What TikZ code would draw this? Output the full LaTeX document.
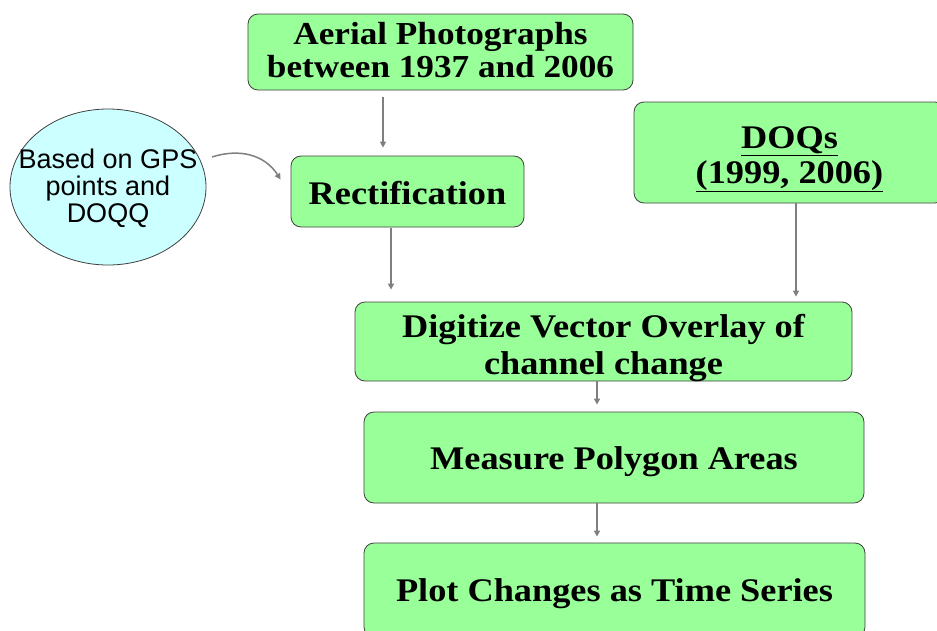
\documentclass[tikz,border=0pt]{standalone}
\usepackage{fontspec}
\setmainfont{Liberation Serif}
\newfontfamily\boxfont[FakeStretch=1.1]{Liberation Serif}
\newfontfamily\ellfont{Liberation Sans}
\usetikzlibrary{shapes.geometric,arrows.meta}
\definecolor{boxgreen}{HTML}{99FF99}
\definecolor{ellcyan}{HTML}{CCFFFF}
\definecolor{arrgray}{HTML}{7F7F7F}
\newcommand{\lowerby}[2]{\raisebox{-#1}[\height][\depth]{#2}}
\tikzset{
  greenbox/.style={draw=black!75, line width=0.8pt, fill=boxgreen, rounded corners=10pt,
    align=center, inner sep=0pt, font=\boxfont\bfseries\fontsize{33}{35}\selectfont},
  ellnode/.style={ellipse, draw=black!75, line width=0.8pt, fill=ellcyan, inner sep=0pt,
    align=center, font=\ellfont\fontsize{27}{27}\selectfont},
  arr/.style={draw=arrgray, line width=1.5pt, -{Triangle[width=6pt,length=6pt]}}
}
\begin{document}
\begin{tikzpicture}[x=1pt,y=-1pt]
\useasboundingbox (0,0) rectangle (937,630);
\node[greenbox, minimum width=385pt, minimum height=76pt, font=\boxfont\bfseries\fontsize{32}{33}\selectfont] (aerial) at (440.5,52)
  {\lowerby{2pt}{\begin{tabular}{@{}c@{}}Aerial Photographs\\between 1937 and 2006\end{tabular}}};
\node[greenbox, minimum width=233pt, minimum height=71pt] (rect) at (407.5,191.5) {\lowerby{2pt}{Rectification}};
\node[greenbox, minimum width=311pt, minimum height=101pt] (doqs) at (789.5,152.5)
  {\lowerby{6pt}{\begin{tabular}{@{}c@{}}\underline{DOQs}\\\underline{(1999, 2006)}\end{tabular}}};
\node[greenbox, minimum width=497pt, minimum height=79pt] (digit) at (603.5,341.5)
  {\lowerby{7pt}{\begin{tabular}{@{}c@{}}Digitize Vector Overlay of\\[2pt]channel change\end{tabular}}};
\node[greenbox, minimum width=500pt, minimum height=91pt] (measure) at (614,457.5) {\lowerby{4pt}{Measure Polygon Areas}};
\node[greenbox, minimum width=501pt, minimum height=94pt] (plot) at (614.5,590) {\lowerby{4pt}{Plot Changes as Time Series}};
\node[ellnode, minimum width=196pt, minimum height=156pt, text height=0pt, text depth=0pt] (ell) at (108,187)
  {\makebox[0pt][c]{\raisebox{-9pt}{\begin{tabular}{@{}c@{}}Based on GPS\\points and\\DOQQ\end{tabular}}}};
\coordinate (ellout) at (212,157);
\draw[arr, shorten <=7pt, shorten >=8pt] ([xshift=-57.5pt]aerial.south) -- ([xshift=-57.5pt]aerial.south |- rect.north);
\draw[arr, shorten <=1pt, shorten >=12pt] ([xshift=-16.5pt]rect.south) -- ([xshift=-16.5pt]rect.south |- digit.north);
\draw[arr, shorten >=5pt] ([xshift=6.5pt]doqs.south) -- ([xshift=6.5pt]doqs.south |- digit.north);
\draw[arr, shorten >=7pt] ([xshift=-6.5pt]digit.south) -- ([xshift=-6.5pt]digit.south |- measure.north);
\draw[arr, shorten >=6pt] ([xshift=-17pt]measure.south) -- ([xshift=-17pt]measure.south |- plot.north);
\draw[arr] (ellout) .. controls (240,148) and (265,155) .. ([shift={(-10,-12)}]rect.west);
\end{tikzpicture}
\end{document}
